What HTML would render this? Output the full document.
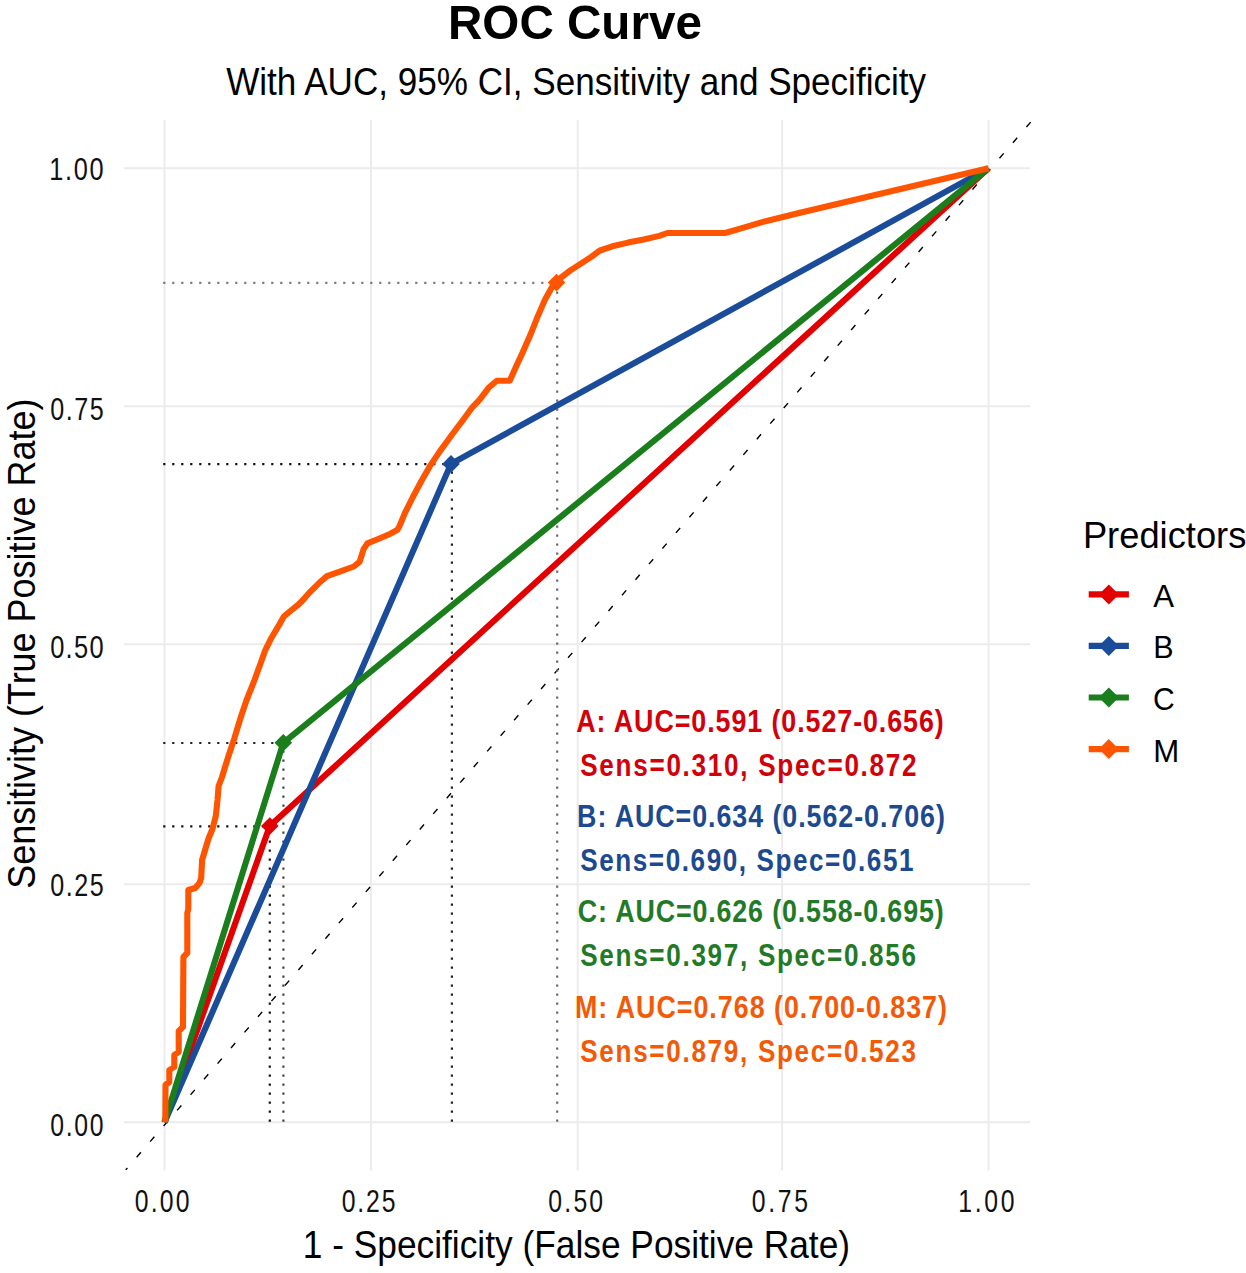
<!DOCTYPE html><html><head><meta charset="utf-8"><style>html,body{margin:0;padding:0;background:#fff;}svg{display:block;}text{font-family:"Liberation Sans",sans-serif;}</style></head><body>
<svg width="1246" height="1273" viewBox="0 0 1246 1273">
<rect width="1246" height="1273" fill="#fff"/>
<g stroke="#ebebeb" stroke-width="1.9"><line x1="164.5" y1="120.0" x2="164.5" y2="1170.5"/><line x1="371.0" y1="120.0" x2="371.0" y2="1170.5"/><line x1="577.7" y1="120.0" x2="577.7" y2="1170.5"/><line x1="782.1" y1="120.0" x2="782.1" y2="1170.5"/><line x1="988.6" y1="120.0" x2="988.6" y2="1170.5"/><line x1="123.8" y1="168.2" x2="1030.0" y2="168.2"/><line x1="123.8" y1="406.2" x2="1030.0" y2="406.2"/><line x1="123.8" y1="644.2" x2="1030.0" y2="644.2"/><line x1="123.8" y1="884.2" x2="1030.0" y2="884.2"/><line x1="123.8" y1="1122.2" x2="1030.0" y2="1122.2"/></g>
<line x1="125.7" y1="1169.9" x2="1032.1" y2="120.5" stroke="#000" stroke-width="1.4" stroke-dasharray="6.5 14.125" stroke-dashoffset="3.9"/>
<g stroke-width="2.2" stroke-dasharray="2.2 6.8"><line x1="163.2" y1="826.3" x2="269.8" y2="826.3" stroke="#111"/><line x1="269.8" y1="1121.8" x2="269.8" y2="826.0" stroke="#111"/><line x1="163.2" y1="464.2" x2="451.0" y2="464.2" stroke="#111"/><line x1="451.9" y1="1121.8" x2="451.9" y2="463.9" stroke="#222"/><line x1="163.2" y1="743.0" x2="283.3" y2="743.0" stroke="#222"/><line x1="283.4" y1="1121.8" x2="283.4" y2="742.8" stroke="#444"/><line x1="163.2" y1="282.8" x2="556.5" y2="282.8" stroke="#7a7a7a"/><line x1="557.2" y1="1121.8" x2="557.2" y2="282.6" stroke="#6a6a6a"/></g>
<polyline points="164.5,1122.2 269.8,826.0 988.5,168.2" fill="none" stroke="#e20000" stroke-width="6.1" stroke-linejoin="round"/>
<polyline points="164.5,1122.2 451.0,463.9 988.5,168.2" fill="none" stroke="#1a4c9a" stroke-width="6.1" stroke-linejoin="round"/>
<polyline points="164.5,1122.2 283.3,742.8 988.5,168.2" fill="none" stroke="#1b7e1d" stroke-width="6.1" stroke-linejoin="round"/>
<polyline points="165.3,1122.2 165.5,1085.0 169.3,1082.0 169.3,1070.0 174.3,1067.0 174.3,1055.0 178.7,1052.0 178.7,1031.0 183.0,1027.0 183.4,957.0 187.3,953.0 187.3,913.0 188.3,909.0 188.3,890.0 195.3,888.0 199.5,883.0 201.2,878.0 202.1,860.0 205.4,849.0 208.7,838.0 212.5,829.0 215.8,816.0 217.5,800.0 218.6,786.0 221.9,777.5 225.2,766.5 228.5,756.0 234.4,738.2 240.1,719.3 246.4,700.5 253.9,681.7 260.8,662.8 265.2,650.3 271.5,637.7 279.0,625.1 284.0,616.3 291.6,610.0 297.9,605.0 301.0,602.1 309.6,592.5 319.3,582.8 327.0,576.1 340.5,571.3 353.9,566.5 359.7,561.6 363.6,549.1 367.4,543.3 377.0,539.5 390.5,533.7 397.3,529.9 399.5,526.0 405.2,512.4 412.9,497.0 421.0,481.7 429.7,466.4 440.0,451.1 451.2,435.8 464.5,418.0 471.6,408.2 479.7,399.6 488.6,387.8 496.8,380.7 509.8,380.7 514.5,370.1 522.7,352.4 530.4,334.8 537.4,317.1 545.1,299.4 551.6,287.7 556.5,282.6 560.5,278.0 570.6,270.3 581.1,263.5 591.5,256.7 599.9,250.5 612.4,246.3 628.0,242.6 643.7,239.5 659.3,235.9 667.4,233.0 725.2,233.0 744.5,227.4 760.5,222.6 779.8,217.8 799.0,213.0 988.5,168.2" fill="none" stroke="#ff5500" stroke-width="6.1" stroke-linejoin="round"/>
<polygon points="261.0,826.0 269.8,817.2 278.6,826.0 269.8,834.8" fill="#e20000"/>
<polygon points="442.2,463.9 451.0,455.1 459.8,463.9 451.0,472.7" fill="#1a4c9a"/>
<polygon points="274.5,742.8 283.3,734.0 292.1,742.8 283.3,751.6" fill="#1b7e1d"/>
<polygon points="547.7,282.6 556.5,273.8 565.3,282.6 556.5,291.4" fill="#ff5500"/>
<text transform="translate(447.99,38.90) scale(0.9829,1)" font-size="48.44" font-weight="bold" fill="#000">ROC Curve</text>
<text transform="translate(226.22,94.70) scale(0.9068,1)" font-size="38.69" fill="#000">With AUC, 95% CI, Sensitivity and Specificity</text>
<text transform="translate(49.30,180.08) scale(0.8000,1)" font-size="31.66" letter-spacing="2.08" fill="#111">1.00</text>
<text transform="translate(50.20,419.89) scale(0.8000,1)" font-size="31.38" letter-spacing="1.91" fill="#111">0.75</text>
<text transform="translate(50.18,658.28) scale(0.8000,1)" font-size="31.80" letter-spacing="1.62" fill="#111">0.50</text>
<text transform="translate(50.20,896.19) scale(0.8000,1)" font-size="31.38" letter-spacing="1.91" fill="#111">0.25</text>
<text transform="translate(50.21,1136.19) scale(0.8000,1)" font-size="30.95" letter-spacing="2.15" fill="#111">0.00</text>
<text transform="translate(134.71,1212.49) scale(0.8000,1)" font-size="30.95" letter-spacing="2.77" fill="#111">0.00</text>
<text transform="translate(341.71,1212.49) scale(0.8000,1)" font-size="30.95" letter-spacing="2.34" fill="#111">0.25</text>
<text transform="translate(548.31,1212.49) scale(0.8000,1)" font-size="30.95" letter-spacing="2.77" fill="#111">0.50</text>
<text transform="translate(751.71,1212.49) scale(0.8000,1)" font-size="30.95" letter-spacing="3.34" fill="#111">0.75</text>
<text transform="translate(958.34,1212.49) scale(0.8000,1)" font-size="30.95" letter-spacing="3.30" fill="#111">1.00</text>
<text transform="translate(302.75,1257.70) scale(0.9160,1)" font-size="38.55" fill="#000">1 - Specificity (False Positive Rate)</text>
<text transform="translate(35.00,888.82) rotate(-90) scale(0.9260,1)" font-size="38.84" fill="#000">Sensitivity (True Positive Rate)</text>
<text transform="translate(1082.90,548.40) scale(0.9718,1)" font-size="37.38" fill="#000">Predictors</text>
<line x1="1088.7" y1="594.4" x2="1128.9" y2="594.4" stroke="#e20000" stroke-width="6.1"/>
<polygon points="1098.8,594.4 1108.8,584.4 1118.8,594.4 1108.8,604.4" fill="#e20000"/>
<line x1="1088.7" y1="645.9" x2="1128.9" y2="645.9" stroke="#1a4c9a" stroke-width="6.1"/>
<polygon points="1098.8,645.9 1108.8,635.9 1118.8,645.9 1108.8,655.9" fill="#1a4c9a"/>
<line x1="1088.7" y1="697.5" x2="1128.9" y2="697.5" stroke="#1b7e1d" stroke-width="6.1"/>
<polygon points="1098.8,697.5 1108.8,687.5 1118.8,697.5 1108.8,707.5" fill="#1b7e1d"/>
<line x1="1088.7" y1="749.1" x2="1128.9" y2="749.1" stroke="#ff5500" stroke-width="6.1"/>
<polygon points="1098.8,749.1 1108.8,739.1 1118.8,749.1 1108.8,759.1" fill="#ff5500"/>
<text transform="translate(1153.22,606.90) scale(0.9750,1)" font-size="32.00" fill="#000">A</text>
<text transform="translate(1153.18,658.30) scale(0.9750,1)" font-size="31.27" fill="#000">B</text>
<text transform="translate(1153.00,709.60) scale(0.9750,1)" font-size="30.84" fill="#000">C</text>
<text transform="translate(1153.13,761.60) scale(0.9750,1)" font-size="32.00" fill="#000">M</text>
<text transform="translate(576.23,731.60) scale(0.8500,1)" font-size="31.56" font-weight="bold" letter-spacing="1.11" fill="#d20008">A: AUC=0.591 (0.527-0.656)</text>
<text transform="translate(580.22,775.50) scale(0.8500,1)" font-size="30.71" font-weight="bold" letter-spacing="2.02" fill="#d20008">Sens=0.310, Spec=0.872</text>
<text transform="translate(577.09,827.00) scale(0.8500,1)" font-size="31.56" font-weight="bold" letter-spacing="1.12" fill="#1d4a8e">B: AUC=0.634 (0.562-0.706)</text>
<text transform="translate(580.22,870.90) scale(0.8500,1)" font-size="30.71" font-weight="bold" letter-spacing="1.85" fill="#1d4a8e">Sens=0.690, Spec=0.651</text>
<text transform="translate(577.83,922.40) scale(0.8500,1)" font-size="31.56" font-weight="bold" letter-spacing="1.03" fill="#237a26">C: AUC=0.626 (0.558-0.695)</text>
<text transform="translate(580.22,966.30) scale(0.8500,1)" font-size="30.71" font-weight="bold" letter-spacing="1.99" fill="#237a26">Sens=0.397, Spec=0.856</text>
<text transform="translate(574.99,1017.80) scale(0.8500,1)" font-size="31.56" font-weight="bold" letter-spacing="1.18" fill="#f25a08">M: AUC=0.768 (0.700-0.837)</text>
<text transform="translate(580.22,1061.70) scale(0.8500,1)" font-size="30.71" font-weight="bold" letter-spacing="1.99" fill="#f25a08">Sens=0.879, Spec=0.523</text>
</svg></body></html>
